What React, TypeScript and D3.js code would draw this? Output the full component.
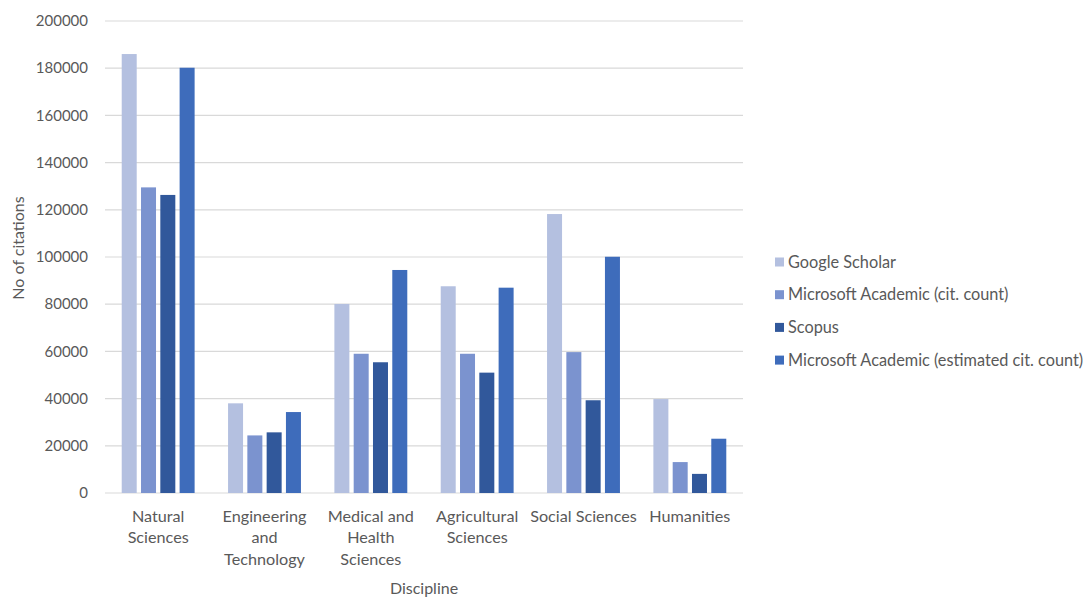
import React from "react";
import * as d3 from "d3";

const categories: string[][] = [
  ["Natural", "Sciences"],
  ["Engineering", "and", "Technology"],
  ["Medical and", "Health", "Sciences"],
  ["Agricultural", "Sciences"],
  ["Social Sciences"],
  ["Humanities"],
];
const seriesNames = [
  "Google Scholar",
  "Microsoft Academic (cit. count)",
  "Scopus",
  "Microsoft Academic (estimated cit. count)",
];
const googleScholar = [186000, 38000, 80100, 87600, 118200, 39800];
const msAcademic = [129500, 24400, 59000, 59000, 59700, 13100];
const scopus = [126300, 25700, 55400, 51000, 39300, 8100];
const msAcademicEst = [180200, 34300, 94500, 87000, 100100, 23000];
const yTicks = [0, 20000, 40000, 60000, 80000, 100000, 120000, 140000, 160000, 180000, 200000];
const colors = ["#b4c0e0", "#7b93cf", "#31589b", "#3e6cbb"];

const W = 1089;
const H = 599;
const left = 105;
const right = 743;
const top = 21;
const bottom = 493;
const font = "Lato, 'Open Sans', sans-serif";
const textColor = "#595959";

export default function App() {
  const seriesData = [googleScholar, msAcademic, scopus, msAcademicEst];
  const x0 = d3.scaleBand<number>().domain(d3.range(categories.length)).range([left, right]).padding(0);
  const gap = 4.3;
  const groupW = 77.2;
  const off = (x0.bandwidth() - groupW + gap) / 2;
  const x1 = d3.scaleBand<number>().domain(d3.range(seriesNames.length)).range([off, off + groupW]).padding(0);
  const y = d3.scaleLinear().domain([0, 200000]).range([bottom, top]);
  const barW = x1.bandwidth() - gap;

  return (
    <svg width={W} height={H} style={{ position: "absolute", left: 0, top: 0, background: "#fff" }}>
      <rect width={W} height={H} fill="#fff" />
      {yTicks.map((t) => (
        <g key={t}>
          <line x1={left} x2={right} y1={y(t)} y2={y(t)} stroke="#d9d9d9" strokeWidth={1.2} />
          <text x={88} y={y(t)} dy="0.35em" textAnchor="end" fontFamily={font} fontSize={15} fill={textColor}>
            {t}
          </text>
        </g>
      ))}
      {categories.map((cat, ci) => (
        <g key={ci}>
          {seriesData.map((s, si) => (
            <rect
              key={si}
              x={(x0(ci) as number) + (x1(si) as number)}
              y={y(s[ci])}
              width={barW}
              height={bottom - y(s[ci])}
              fill={colors[si]}
            />
          ))}
          {cat.map((line, li) => (
            <text
              key={li}
              x={(x0(ci) as number) + x0.bandwidth() / 2}
              y={516 + li * 21.5}
              dy="0.35em"
              textAnchor="middle"
              fontFamily={font}
              fontSize={16.2}
              fill={textColor}
            >
              {line}
            </text>
          ))}
        </g>
      ))}
      <text
        transform={`translate(18,248) rotate(-90)`}
        textAnchor="middle"
        dy="0.35em"
        fontFamily={font}
        fontSize={16}
        fill={textColor}
      >
        No of citations
      </text>
      <text x={424} y={588} dy="0.35em" textAnchor="middle" fontFamily={font} fontSize={16} fill={textColor}>
        Discipline
      </text>
      {seriesNames.map((n, i) => (
        <g key={n}>
          <rect x={775} y={262 + i * 32.7 - 4.5} width={9} height={9} fill={colors[i]} />
          <text x={788} y={262 + i * 32.7} dy="0.35em" fontFamily={font} fontSize={16.3} fill={textColor}>
            {n}
          </text>
        </g>
      ))}
    </svg>
  );
}
